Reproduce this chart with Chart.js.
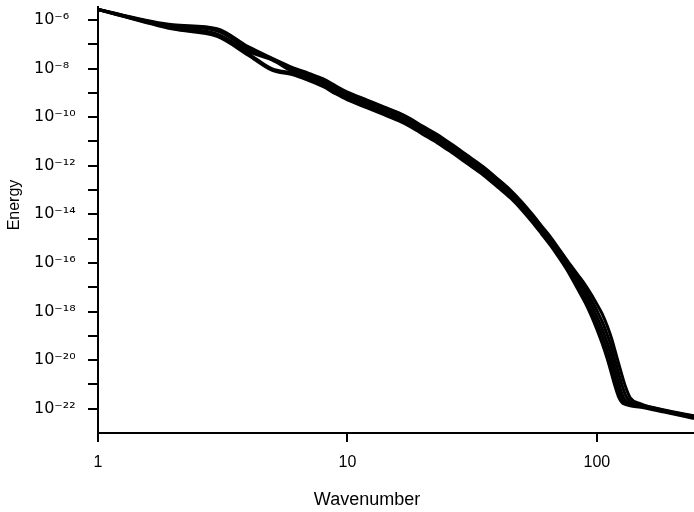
<!DOCTYPE html>
<html lang="en">
<head>
    <meta charset="UTF-8">
    <title>Energy spectrum</title>
    <style>
        body {
            margin: 0;
            padding: 0;
            background: #ffffff;
        }
        #chart {
            display: block;
        }
    </style>
</head>
<body>
    <canvas id="chart" width="694" height="512"></canvas>

    <script src="https://cdn.jsdelivr.net/npm/chart.js"></script>
    <script>
        const wavenumbers = [1, 2, 3, 4, 5, 6, 7, 8, 9, 10, 12, 14, 16, 18, 20, 23, 26, 30, 35, 40,
                             45, 50, 55, 60, 65, 70, 76, 84, 90, 95, 100, 105, 110, 114, 118, 122, 126, 130,
                             136, 150, 186, 245];

        // log10(energy) for each of the overlapping runs
        const run1 = [-5.57, -6.20, -6.36, -7.10, -7.58, -7.95, -8.20, -8.43, -8.72, -8.97, -9.30, -9.58, -9.82, -10.08,
                      -10.37, -10.73, -11.10, -11.55, -12.04, -12.54, -13.00, -13.49, -13.99, -14.48, -14.92, -15.38,
                      -15.90, -16.50, -16.92, -17.30, -17.70, -18.10, -18.60, -19.05, -19.58, -20.12, -20.62, -21.08,
                      -21.55, -21.80, -22.05, -22.29];
        const run2 = [-5.57, -6.25, -6.45, -7.20, -7.62, -8.04, -8.27, -8.53, -8.82, -9.06, -9.39, -9.68, -9.93, -10.17,
                      -10.45, -10.83, -11.20, -11.64, -12.13, -12.63, -13.09, -13.58, -14.08, -14.57, -15.02, -15.47,
                      -16.00, -16.65, -17.10, -17.52, -17.96, -18.42, -18.95, -19.42, -19.98, -20.52, -21.02, -21.42,
                      -21.72, -21.85, -22.07, -22.32];
        const run3 = [-5.57, -6.30, -6.58, -7.30, -7.66, -8.12, -8.36, -8.62, -8.90, -9.14, -9.47, -9.75, -10.00, -10.25,
                      -10.54, -10.91, -11.28, -11.73, -12.22, -12.72, -13.17, -13.66, -14.16, -14.65, -15.10, -15.56,
                      -16.08, -16.80, -17.28, -17.74, -18.22, -18.72, -19.29, -19.79, -20.36, -20.90, -21.39, -21.66,
                      -21.80, -21.88, -22.09, -22.34];
        const run4 = [-5.57, -6.34, -6.62, -7.38, -8.02, -8.18, -8.43, -8.68, -8.97, -9.21, -9.54, -9.82, -10.07, -10.32,
                      -10.61, -10.98, -11.35, -11.80, -12.29, -12.79, -13.24, -13.73, -14.23, -14.72, -15.17, -15.64,
                      -16.20, -16.95, -17.48, -17.96, -18.48, -19.02, -19.62, -20.15, -20.72, -21.25, -21.62, -21.78,
                      -21.85, -21.91, -22.11, -22.36];
        const run5 = [-5.57, -6.38, -6.68, -7.45, -8.08, -8.25, -8.50, -8.75, -9.05, -9.29, -9.62, -9.90, -10.15, -10.41,
                      -10.70, -11.07, -11.44, -11.89, -12.38, -12.88, -13.33, -13.82, -14.32, -14.81, -15.27, -15.74,
                      -16.30, -17.10, -17.66, -18.18, -18.74, -19.32, -19.95, -20.50, -21.05, -21.50, -21.74, -21.82,
                      -21.88, -21.94, -22.14, -22.40];

        const xTickValues = [1, 10, 100];
        const yTickExponents = [-22, -21, -20, -19, -18, -17, -16, -15, -14, -13, -12, -11, -10, -9, -8, -7, -6];
        const xTitle = 'Wavenumber';
        const yTitle = 'Energy';

        const sup = {'-': '\u207B', '0': '\u2070', '1': '\u00B9', '2': '\u00B2', '3': '\u00B3', '4': '\u2074',
                     '5': '\u2075', '6': '\u2076', '7': '\u2077', '8': '\u2078', '9': '\u2079'};

        function powerLabel(exp) {
            return '10' + String(exp).split('').map(c => sup[c]).join('');
        }

        function toPoints(run) {
            return wavenumbers.map((k, i) => ({x: k, y: Math.pow(10, run[i])}));
        }

        // axis titles sit off-centre in the original, so they are drawn here
        const axisTitles = {
            id: 'axisTitles',
            afterDraw(chart) {
                const ctx = chart.ctx;
                ctx.save();
                ctx.fillStyle = '#000';
                ctx.textAlign = 'center';
                ctx.textBaseline = 'middle';
                ctx.font = '18px "Liberation Sans", Arial, sans-serif';
                ctx.fillText(xTitle, 367, 500);
                ctx.translate(15, 205);
                ctx.rotate(-Math.PI / 2);
                ctx.font = '16px "Liberation Sans", Arial, sans-serif';
                ctx.fillText(yTitle, 0, 0);
                ctx.restore();
            }
        };

        const runs = [run1, run2, run3, run4, run5];

        new Chart(document.getElementById('chart'), {
            type: 'line',
            data: {
                datasets: runs.map(r => ({
                    data: toPoints(r),
                    borderColor: '#000',
                    borderWidth: 3,
                    pointRadius: 0,
                    cubicInterpolationMode: 'monotone',
                    fill: false,
                    clip: 6
                }))
            },
            options: {
                responsive: false,
                animation: false,
                layout: {
                    padding: {left: 34, top: 7, right: 0, bottom: 0}
                },
                plugins: {
                    legend: {display: false},
                    tooltip: {enabled: false}
                },
                scales: {
                    x: {
                        type: 'logarithmic',
                        min: 1,
                        max: 245,
                        afterBuildTicks: s => { s.ticks = xTickValues.map(v => ({value: v})); },
                        afterFit: s => { s.height = 79; s.paddingLeft = 0; s.paddingRight = 0; },
                        ticks: {
                            callback: v => String(v),
                            color: '#000',
                            padding: 11,
                            maxRotation: 0,
                            font: {family: '"Liberation Sans", Arial, sans-serif', size: 16}
                        },
                        grid: {
                            drawOnChartArea: false,
                            drawTicks: true,
                            tickLength: 9,
                            color: '#000',
                            lineWidth: 2
                        },
                        border: {display: true, color: '#000', width: 2}
                    },
                    y: {
                        type: 'logarithmic',
                        min: 1e-23,
                        max: 3.4e-6,
                        afterBuildTicks: s => { s.ticks = yTickExponents.map(e => ({value: Math.pow(10, e)})); },
                        afterFit: s => { s.width = 64; s.paddingTop = 0; s.paddingBottom = 0; },
                        ticks: {
                            callback: v => {
                                const e = Math.round(Math.log10(v));
                                return e % 2 === 0 ? powerLabel(e) : '';
                            },
                            color: '#000',
                            crossAlign: 'far',
                            font: {family: '"DejaVu Sans", sans-serif', size: 16}
                        },
                        grid: {
                            drawOnChartArea: false,
                            drawTicks: true,
                            tickLength: 10,
                            color: '#000',
                            lineWidth: 2
                        },
                        border: {display: true, color: '#000', width: 2}
                    }
                }
            },
            plugins: [axisTitles]
        });
    </script>
</body>
</html>
